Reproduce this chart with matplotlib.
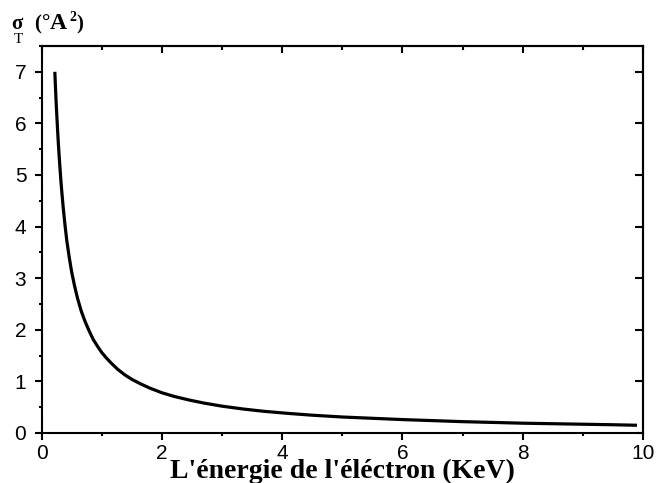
import matplotlib
matplotlib.use('Agg')
import matplotlib.pyplot as plt
from matplotlib.ticker import MultipleLocator

# energy (KeV) and total cross section sigma_T (A^2)
energy = [0.22, 0.23, 0.24, 0.25, 0.26, 0.275, 0.29, 0.305, 0.32, 0.34,
          0.36, 0.39, 0.42, 0.46, 0.50, 0.55, 0.60, 0.66, 0.72, 0.79,
          0.86, 0.93, 1.00, 1.08, 1.17, 1.27, 1.38, 1.50, 1.65, 1.80,
          2.00, 2.20, 2.45, 2.70, 3.00, 3.35, 3.70, 4.10, 4.50, 5.00,
          5.50, 6.00, 6.50, 7.00, 7.50, 8.00, 8.50, 9.00, 9.50, 9.90]
sigma = [7.00, 6.72, 6.45, 6.22, 6.00, 5.68, 5.40, 5.15, 4.90, 4.62,
         4.36, 4.02, 3.72, 3.40, 3.12, 2.84, 2.60, 2.36, 2.17, 1.98,
         1.81, 1.68, 1.56, 1.45, 1.34, 1.23, 1.13, 1.04, 0.95, 0.87,
         0.78, 0.71, 0.64, 0.58, 0.52, 0.465, 0.42, 0.38, 0.345, 0.31,
         0.285, 0.26, 0.24, 0.22, 0.205, 0.19, 0.18, 0.17, 0.16, 0.15]

xticks = [0, 2, 4, 6, 8, 10]
yticks = [0, 1, 2, 3, 4, 5, 6, 7]

W, H = 658, 483
fig = plt.figure(figsize=(W / 100, H / 100), dpi=100)
ax = fig.add_axes([41.6 / W, 1 - 433 / H, (643 - 41.6) / W, (433 - 46) / H])

ax.plot(energy, sigma, color='black', lw=2.3, solid_capstyle='butt')

ax.set_xlim(0, 10)
ax.set_ylim(0, 7.5)
ax.set_xticks(xticks)
ax.set_yticks(yticks)
ax.xaxis.set_minor_locator(MultipleLocator(1))
ax.yaxis.set_minor_locator(MultipleLocator(0.5))

for s in ax.spines.values():
    s.set_linewidth(1.5)

ax.tick_params(which='both', direction='out', width=1.5, top=False, right=False,
               labelsize=15, labelfontfamily='Liberation Sans')
ax.tick_params(which='major', length=5)
ax.tick_params(which='minor', length=2.5)
ax.tick_params(axis='x', which='major', pad=3)
ax.tick_params(axis='y', which='major', pad=6)

# inward ticks on the top and right edges
top = ax.secondary_xaxis('top')
top.set_xticks(xticks)
top.xaxis.set_minor_locator(MultipleLocator(1))
top.tick_params(which='both', direction='in', width=1.5, labeltop=False)
top.tick_params(which='major', length=5)
top.tick_params(which='minor', length=3)
right = ax.secondary_yaxis('right')
right.set_yticks(yticks)
right.tick_params(which='major', direction='in', width=1.5, length=6, labelright=False)
for sec in (top, right):
    for s in sec.spines.values():
        s.set_linewidth(1.5)

# x label sits low, overlapping the tick labels as in the original
fig.text(342 / W, 1 - 478 / H, "L'énergie de l'éléctron (KeV)", ha='center',
         va='baseline', fontfamily='Liberation Serif', fontweight='bold', fontsize=20)

# y label in the top-left corner
lab = dict(fontfamily='Liberation Serif', fontweight='bold', fontsize=15)
fig.text(11 / W, 1 - 29 / H, "σ", **lab)
fig.text(34 / W, 1 - 29 / H, "(", **lab)
fig.text(42 / W, 1 - 29 / H, "°", **lab)
fig.text(50 / W, 1 - 29 / H, "A", fontfamily='Liberation Serif',
         fontweight='bold', fontsize=17)
fig.text(69 / W, 1 - 21 / H, "2", fontfamily='Liberation Serif',
         fontweight='bold', fontsize=10)
fig.text(76 / W, 1 - 29 / H, ")", **lab)
fig.text(14 / W, 1 - 43 / H, "T", fontfamily='Liberation Serif', fontsize=11)

fig.savefig('out.png', dpi=100)
